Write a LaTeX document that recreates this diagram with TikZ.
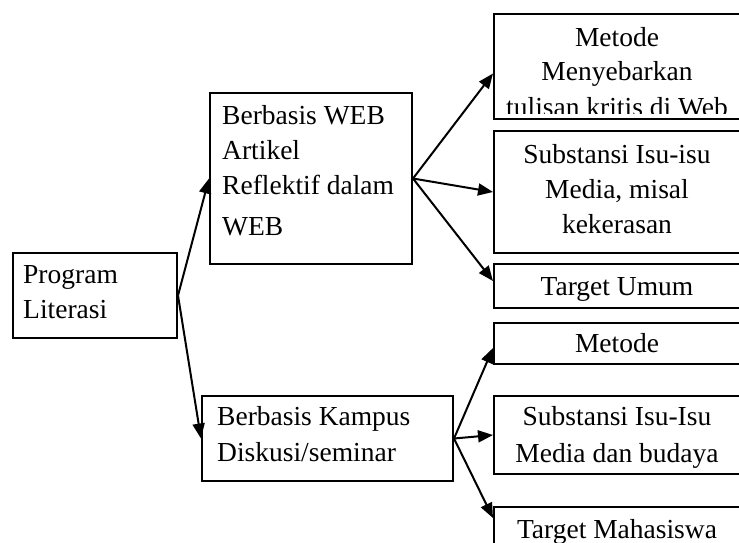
\documentclass[tikz,border=0pt]{standalone}
\usepackage{fontspec}
\setmainfont{Liberation Serif}
\usetikzlibrary{arrows.meta}
\begin{document}
\begin{tikzpicture}[x=1pt,y=-1pt,
  box/.style={draw, line width=2pt, inner sep=0pt, anchor=north west},
  txt/.style={inner sep=0pt, font=\fontsize{27.5}{35}\selectfont},
  arr/.style={line width=2pt, -{Triangle[length=15pt,width=12pt]}}]
\useasboundingbox (0,0) rectangle (739,542);
\clip (0,0) rectangle (739,542);
% boxes
\node[box, minimum width=164pt, minimum height=85pt] (prog) at (12,252) {};
\node[box, minimum width=202pt, minimum height=171pt] (web) at (209,92) {};
\node[box, minimum width=251pt, minimum height=85pt] (kampus) at (201,395) {};
\node[box, minimum width=249pt, minimum height=105pt] (m1) at (493,13) {};
\node[box, minimum width=249pt, minimum height=122pt] (s1) at (493,130) {};
\node[box, minimum width=249pt, minimum height=44pt] (t1) at (493,263) {};
\node[box, minimum width=249pt, minimum height=41pt] (m2) at (493,322) {};
\node[box, minimum width=249pt, minimum height=78pt] (s2) at (493,395) {};
\node[box, minimum width=249pt, minimum height=50pt] (t2) at (493,506) {};
% texts
\node[txt, anchor=base west] (progt) at (23,283) {\parbox[t]{150pt}{\raggedright Program\\Literasi}};
\node[txt, anchor=base west] (webt) at (222,124) {\parbox[t]{185pt}{\raggedright Berbasis WEB\\Artikel\\Reflektif dalam\\[6pt]WEB}};
\node[txt, anchor=base west] (kampust) at (217,425) {\parbox[t]{230pt}{\raggedright Berbasis Kampus\\[1pt]Diskusi/seminar}};
\begin{scope}
\clip (493,13) rectangle (742,113);
\node[txt, anchor=base] (m1t) at (617,46) {\parbox[t]{245pt}{\centering Metode\\[-1pt]Menyebarkan\\[1pt]tulisan kritis di Web}};
\end{scope}
\node[txt, anchor=base] (s1t) at (617,163) {\parbox[t]{245pt}{\centering Substansi Isu-isu\\Media, misal\\kekerasan}};
\node[txt, anchor=base] (t1t) at (617,295) {Target Umum};
\node[txt, anchor=base] (m2t) at (617,352) {Metode};
\node[txt, anchor=base] (s2t) at (617,425) {\parbox[t]{245pt}{\centering Substansi Isu-Isu\\[2pt]Media dan budaya}};
\node[txt, anchor=base] (t2t) at (617,538) {Target Mahasiswa};
% connectors
\draw[arr] (prog.east) -- (web.west);
\draw[arr] (prog.east) -- (kampus.west);
\draw[arr] (web.east) -- ([yshift=-7pt]m1.west);
\draw[arr] (web.east) -- (s1.west);
\draw[arr] (web.east) -- ([yshift=5pt]t1.west);
\draw[arr] (kampus.east) -- ([yshift=-4.5pt]m2.west);
\draw[arr] (kampus.east) -- (s2.west);
\draw[arr] (kampus.east) -- ([yshift=-12pt]t2.north west);
\end{tikzpicture}
\end{document}
